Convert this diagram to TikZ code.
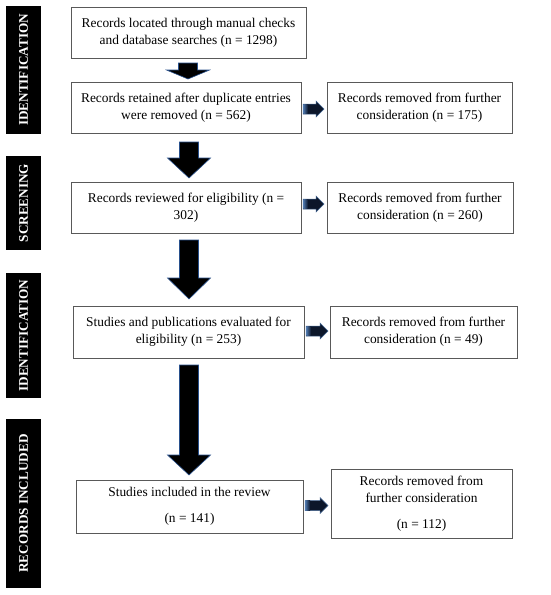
\documentclass[tikz,border=0pt]{standalone}
\usepackage{fontspec}
\setmainfont{Liberation Serif}
\definecolor{navy}{RGB}{12,22,42}
\definecolor{steel}{RGB}{78,118,170}
\definecolor{arredge}{RGB}{40,80,140}
\begin{document}
\begin{tikzpicture}[x=1pt,y=-1pt,
  box/.style={draw=black!65, line width=0.8pt, align=center, inner sep=2pt,
    font=\fontsize{13.4}{17}\selectfont, text=black},
  bar/.style={fill=black, text=white, rotate=90, inner sep=0pt,
    font=\fontsize{13.2}{15}\selectfont\bfseries},
  pics/dnarr/.style n args={2}{code={
    \filldraw[fill=black, draw=arredge, line width=0.6pt]
      (-9.5,0) -- (9.5,0) -- (9.5,#1) -- (21.5,#1) -- (0,#2) -- (-21.5,#1) -- (-9.5,#1) -- cycle;}},
  pics/rtarr/.style n args={2}{code={
    \filldraw[fill=navy, draw=steel!80!navy, line width=0.5pt]
      (0,-5) -- (#2,-5) -- (#2,-8) -- (#1,0) -- (#2,8) -- (#2,5) -- (0,5) -- cycle;
    \shade[left color=steel, right color=navy] (0.3,-4.7) rectangle (5,4.7);}}
]
\useasboundingbox (0,0) rectangle (550,595);

% side bars
\node[bar, minimum width=128pt, minimum height=35pt] (s1) at (23.5,70) {IDENTIFICATION};
\node[bar, minimum width=94pt, minimum height=35pt] (s2) at (23.5,203) {SCREENING};
\node[bar, minimum width=125pt, minimum height=35pt] (s3) at (23.5,335.5) {IDENTIFICATION};
\node[bar, minimum width=169pt, minimum height=35pt] (s4) at (23.5,503.5) {RECORDS INCLUDED};

% main boxes
\node[box, minimum width=235pt, minimum height=51pt] (b1) at (188.5,32.5)
  {Records located through manual checks\\and database searches (n = 1298)};
\node[box, minimum width=230pt, minimum height=51pt] (b2) at (186,107.5)
  {Records retained after duplicate entries\\were removed (n = 562)};
\node[box, minimum width=230pt, minimum height=51pt] (b3) at (186,207.5)
  {Records reviewed for eligibility (n =\\302)};
\node[box, minimum width=231pt, minimum height=52pt] (b4) at (188.5,332)
  {Studies and publications evaluated for\\eligibility (n = 253)};
\node[box, minimum width=227pt, minimum height=53pt] (b5) at (189.5,506.5)
  {Studies included in the review\\[9pt](n = 141)};

% right boxes
\node[box, minimum width=185pt, minimum height=51pt] (r2) at (419.5,107.5)
  {Records removed from further\\consideration (n = 175)};
\node[box, minimum width=186pt, minimum height=51pt] (r3) at (420,207.5)
  {Records removed from further\\consideration (n = 260)};
\node[box, minimum width=187pt, minimum height=52pt] (r4) at (423.5,332)
  {Records removed from further\\consideration (n = 49)};
\node[box, minimum width=181pt, minimum height=69pt] (r5) at (421.5,503.5)
  {Records removed from\\further consideration\\[9pt](n = 112)};

% down block arrows
\pic at (188,63) {dnarr={7}{16}};
\pic at (189,142) {dnarr={16}{36}};
\pic at (189,240) {dnarr={38}{59}};
\pic at (189,365) {dnarr={90}{110}};

% right block arrows
\pic at (303,109) {rtarr={21}{13}};
\pic at (303,204) {rtarr={21}{13}};
\pic at (306,331) {rtarr={22}{14}};
\pic at (305,505.5) {rtarr={23}{15}};
\end{tikzpicture}
\end{document}
